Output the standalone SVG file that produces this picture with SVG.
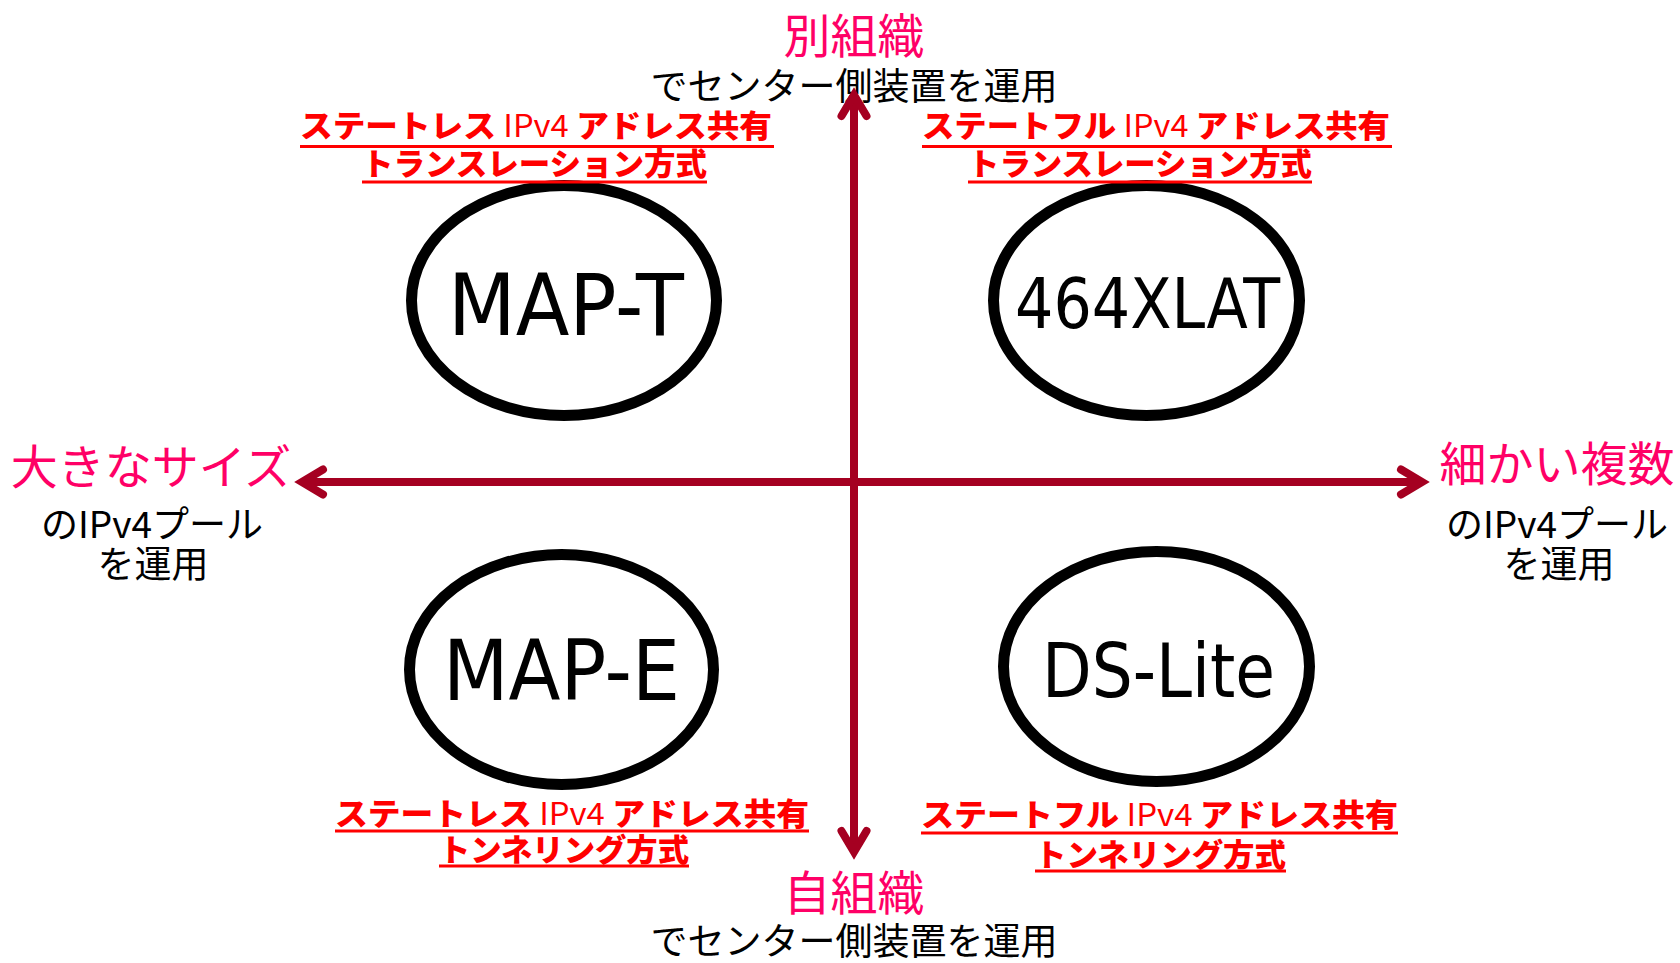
<svg xmlns="http://www.w3.org/2000/svg" width="1680" height="963" viewBox="0 0 1680 963">
<style>
.pink{font-family:"Noto Sans CJK JP",sans-serif;font-size:47px;fill:#FF0066;text-anchor:middle}
.blk{font-family:"Noto Sans CJK JP",sans-serif;font-size:37px;fill:#000;text-anchor:middle}
.red{font-family:"Noto Sans CJK JP",sans-serif;font-size:31px;font-weight:900;fill:#FF0000}
.lt{font-weight:400}
.ul{stroke:#FF0000;stroke-width:3}
.ell{fill:#fff;stroke:#000;stroke-width:11}
.big{font-family:"DejaVu Sans",sans-serif;fill:#000}
.axis{stroke:#A50021;stroke-width:8;fill:none}
.head{stroke:#A50021;stroke-width:8;fill:none;stroke-linecap:round;stroke-linejoin:miter}
</style>
<defs>
<marker id="ah" viewBox="-30 -20 45 40" markerWidth="45" markerHeight="40" refX="0" refY="0" orient="auto-start-reverse" markerUnits="userSpaceOnUse" overflow="visible">
<path class="head" d="M-21,-12.5 L0,0 L-21,12.5"/>
</marker>
</defs>
<rect width="1680" height="963" fill="#fff"/>

<g id="labels-axis">
<text class="pink" x="854" y="53">別組織</text>
<text class="blk" x="854" y="100">でセンター側装置を運用</text>
<text class="pink" x="854" y="910">自組織</text>
<text class="blk" x="854" y="955">でセンター側装置を運用</text>
<text class="pink" x="151" y="484">大きなサイズ</text>
<text class="blk" x="152" y="538">のIPv4プール</text>
<text class="blk" x="153" y="578">を運用</text>
<text class="pink" x="1557" y="481">細かい複数</text>
<text class="blk" x="1557" y="538">のIPv4プール</text>
<text class="blk" x="1559" y="578">を運用</text>
</g>

<g id="connectors">
<path class="axis" d="M302,482 L1422,482" marker-start="url(#ah)" marker-end="url(#ah)"/>
<path class="axis" d="M854,95 L854,852" marker-start="url(#ah)" marker-end="url(#ah)"/>
</g>

<g id="node-mapt">
<ellipse class="ell" cx="564" cy="300.5" rx="152.5" ry="115"/>
<text class="big" x="448" y="335" font-size="85" textLength="236" lengthAdjust="spacingAndGlyphs">MAP-T</text>
</g>
<g id="node-464xlat">
<ellipse class="ell" cx="1146.5" cy="300.5" rx="153" ry="115"/>
<text class="big" x="1015" y="328" font-size="69" textLength="265" lengthAdjust="spacingAndGlyphs">464XLAT</text>
</g>
<g id="node-mape">
<ellipse class="ell" cx="561.5" cy="669.5" rx="152" ry="115"/>
<text class="big" x="443" y="700" font-size="84" textLength="237" lengthAdjust="spacingAndGlyphs">MAP-E</text>
</g>
<g id="node-dslite">
<ellipse class="ell" cx="1156.5" cy="666.5" rx="153" ry="115"/>
<text class="big" x="1042" y="697" font-size="75" textLength="233" lengthAdjust="spacingAndGlyphs">DS-Lite</text>
</g>

<g id="label-tl">
<text class="red" x="300" y="137" textLength="472" lengthAdjust="spacingAndGlyphs">ステートレス <tspan class="lt">IPv4</tspan> アドレス共有</text>
<line class="ul" x1="300" y1="146.5" x2="774" y2="146.5"/>
<text class="red" x="362" y="175" textLength="345" lengthAdjust="spacingAndGlyphs">トランスレーション方式</text>
<line class="ul" x1="362" y1="182" x2="707" y2="182"/>
</g>
<g id="label-tr">
<text class="red" x="922" y="137" textLength="468" lengthAdjust="spacingAndGlyphs">ステートフル <tspan class="lt">IPv4</tspan> アドレス共有</text>
<line class="ul" x1="922" y1="146.5" x2="1392" y2="146.5"/>
<text class="red" x="968" y="175" textLength="344" lengthAdjust="spacingAndGlyphs">トランスレーション方式</text>
<line class="ul" x1="968" y1="182" x2="1312" y2="182"/>
</g>
<g id="label-bl">
<text class="red" x="335" y="825" textLength="474" lengthAdjust="spacingAndGlyphs">ステートレス <tspan class="lt">IPv4</tspan> アドレス共有</text>
<line class="ul" x1="335" y1="831" x2="809" y2="831"/>
<text class="red" x="439" y="861" textLength="250" lengthAdjust="spacingAndGlyphs">トンネリング方式</text>
<line class="ul" x1="439" y1="866" x2="689" y2="866"/>
</g>
<g id="label-br">
<text class="red" x="921" y="826" textLength="477" lengthAdjust="spacingAndGlyphs">ステートフル <tspan class="lt">IPv4</tspan> アドレス共有</text>
<line class="ul" x1="921" y1="833" x2="1398" y2="833"/>
<text class="red" x="1035" y="866" textLength="251" lengthAdjust="spacingAndGlyphs">トンネリング方式</text>
<line class="ul" x1="1035" y1="871" x2="1286" y2="871"/>
</g>
</svg>
